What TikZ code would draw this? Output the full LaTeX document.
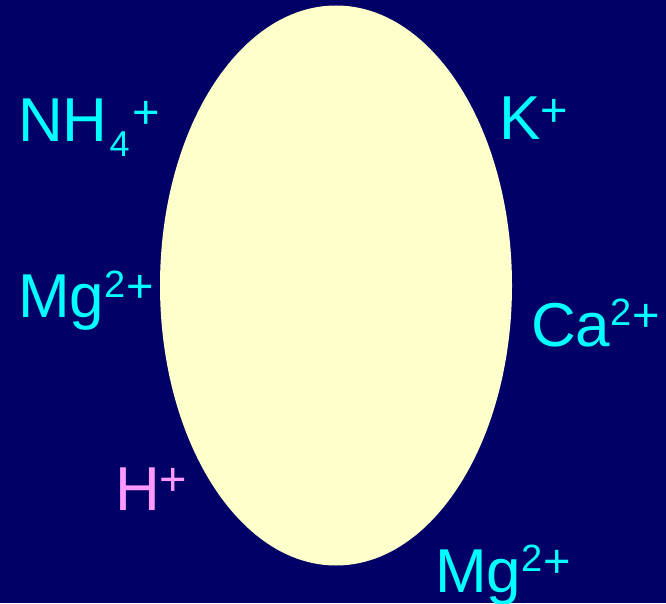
\documentclass[tikz,border=0pt]{standalone}
\usepackage{fontspec}
\setmainfont{Liberation Sans}
\usetikzlibrary{shapes.geometric}
\definecolor{bgnavy}{HTML}{000066}
\definecolor{cellyellow}{HTML}{FFFFCC}
\definecolor{ioncyan}{HTML}{00FFFF}
\definecolor{ionpink}{HTML}{FF99FF}
\newcommand\ionplus[1][15pt]{\raisebox{#1}{\fontsize{47}{47}\selectfont +}}
\newcommand\iontwo{\raisebox{21pt}{\fontsize{38}{38}\selectfont 2}}
\newcommand\ionsub[1]{\raisebox{-15pt}{\fontsize{36}{36}\selectfont #1}}
\begin{document}
\begin{tikzpicture}[x=1pt,y=1pt,
  ion/.style={anchor=base west,inner sep=0pt,text=ioncyan,font=\fontsize{62}{62}\selectfont}]
\fill[bgnavy] (0,0) rectangle (666,603);
\useasboundingbox (0,0) rectangle (666,603);
\node[ellipse,fill=cellyellow,draw=none,minimum width=352pt,minimum height=560pt,inner sep=0pt] (cell) at (336,317.5) {};
\node[ion] (nh4) at (18,461) {NH\kern2pt\ionsub{4}\kern3pt\ionplus[13pt]};
\node[ion] (k) at (499,463) {K\ionplus[13pt]};
\node[ion] (mgl) at (18,285) {Mg\iontwo\kern1pt\ionplus};
\node[ion] (ca) at (531,257) {Ca\iontwo\kern1pt\ionplus};
\node[ion,text=ionpink] (h) at (115,93) {H\ionplus};
\node[ion] (mgb) at (435,11) {Mg\iontwo\kern1pt\ionplus};
\end{tikzpicture}
\end{document}
